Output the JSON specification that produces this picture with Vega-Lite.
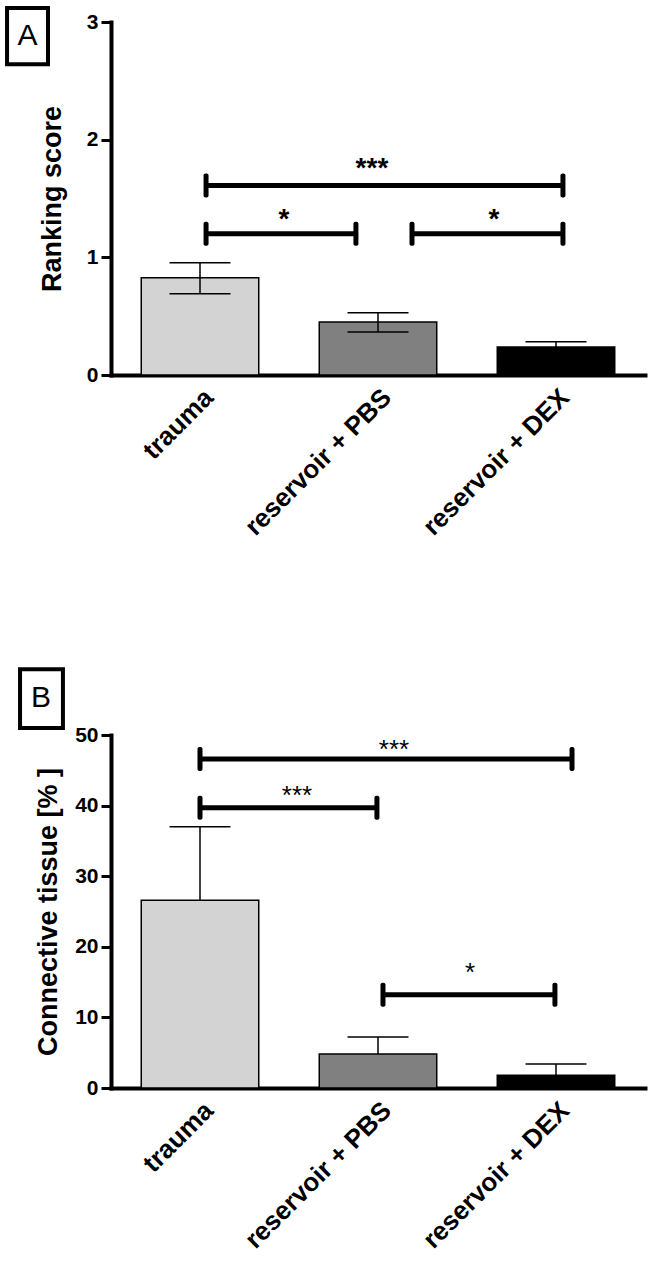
{
  "$schema": "https://vega.github.io/schema/vega-lite/v6.json",
  "background": "white",
  "padding": 5,
  "spacing": 127,
  "config": {
    "font": "Liberation Sans",
    "view": {"stroke": null},
    "tick": {"opacity": 1},
    "axis": {
      "domainColor": "black", "domainWidth": 4, "domainCap": "square",
      "tickColor": "black", "tickWidth": 3, "tickSize": 10,
      "labelColor": "black", "labelFontWeight": "bold", "labelFont": "Liberation Sans", "labelLimit": 0,
      "titleColor": "black", "titleFontWeight": "bold", "titleFont": "Liberation Sans",
      "grid": false
    },
    "axisX": {"ticks": false, "labelAngle": -45, "labelFontSize": 26, "labelPadding": 9, "title": null},
    "axisY": {"labelFontSize": 21, "labelPadding": 3, "titleFontSize": 27, "titlePadding": 20, "format": "d"}
  },
  "datasets": {
    "barsA": [
      {"group": "trauma", "mean": 0.827, "lo": 0.69, "hi": 0.954},
      {"group": "reservoir + PBS", "mean": 0.45, "lo": 0.365, "hi": 0.53},
      {"group": "reservoir + DEX", "mean": 0.238, "lo": 0.19, "hi": 0.283}
    ],
    "sigA": [
      {"x1": 0.534, "x2": 2.539, "y": 1.61, "stars": "***", "sx": 1.466, "sy": 1.75},
      {"x1": 0.534, "x2": 1.376, "y": 1.2, "stars": "*", "sx": 0.972, "sy": 1.32},
      {"x1": 1.691, "x2": 2.539, "y": 1.2, "stars": "*", "sx": 2.152, "sy": 1.32}
    ],
    "barsB": [
      {"group": "trauma", "mean": 26.6, "hi": 37.0},
      {"group": "reservoir + PBS", "mean": 4.82, "hi": 7.23},
      {"group": "reservoir + DEX", "mean": 1.8, "hi": 3.4}
    ],
    "sigB": [
      {"x1": 0.5, "x2": 2.59, "y": 46.6, "stars": "***", "sx": 1.59, "sy": 47.9},
      {"x1": 0.5, "x2": 1.494, "y": 39.7, "stars": "***", "sx": 1.045, "sy": 41.4},
      {"x1": 1.528, "x2": 2.494, "y": 13.2, "stars": "*", "sx": 2.017, "sy": 16.3}
    ]
  },
  "vconcat": [
    {
      "width": 534, "height": 353,
      "resolve": {"scale": {"x": "independent"}},
      "layer": [
        {
          "data": {"name": "barsA"},
          "mark": {"type": "bar", "stroke": "black", "strokeWidth": 1.5, "width": {"band": 0.66}},
          "encoding": {
            "x": {"field": "group", "type": "nominal", "sort": null, "scale": {"paddingInner": 0, "paddingOuter": 0}},
            "y": {"field": "mean", "type": "quantitative", "scale": {"domain": [0, 3], "nice": false}, "axis": {"values": [0, 1, 2, 3], "title": "Ranking score"}},
            "fill": {"field": "group", "type": "nominal", "scale": {"domain": ["trauma", "reservoir + PBS", "reservoir + DEX"], "range": ["#d3d3d3", "#808080", "#000000"]}, "legend": null}
          }
        },
        {
          "data": {"name": "barsA"},
          "mark": {"type": "rule", "color": "black", "strokeWidth": 1.5},
          "encoding": {
            "x": {"field": "group", "type": "nominal", "sort": null, "scale": {"paddingInner": 0, "paddingOuter": 0}, "axis": null},
            "y": {"field": "lo", "type": "quantitative"},
            "y2": {"field": "hi"}
          }
        },
        {
          "data": {"name": "barsA"},
          "mark": {"type": "tick", "color": "black", "opacity": 1, "size": 61, "thickness": 1.5},
          "encoding": {
            "x": {"field": "group", "type": "nominal", "sort": null, "scale": {"paddingInner": 0, "paddingOuter": 0}, "axis": null},
            "y": {"field": "hi", "type": "quantitative"}
          }
        },
        {
          "data": {"name": "barsA"},
          "mark": {"type": "tick", "color": "black", "opacity": 1, "size": 61, "thickness": 1.5},
          "encoding": {
            "x": {"field": "group", "type": "nominal", "sort": null, "scale": {"paddingInner": 0, "paddingOuter": 0}, "axis": null},
            "y": {"field": "lo", "type": "quantitative"}
          }
        },
        {
          "data": {"name": "sigA"},
          "mark": {"type": "rule", "color": "black", "strokeWidth": 5},
          "encoding": {
            "x": {"field": "x1", "type": "quantitative", "scale": {"domain": [0, 3], "nice": false, "zero": false}, "axis": null},
            "x2": {"field": "x2"},
            "y": {"field": "y", "type": "quantitative"}
          }
        },
        {
          "data": {"name": "sigA"},
          "mark": {"type": "tick", "color": "black", "opacity": 1, "orient": "vertical", "size": 24, "thickness": 5, "cornerRadius": 2},
          "encoding": {
            "x": {"field": "x1", "type": "quantitative", "scale": {"domain": [0, 3], "nice": false, "zero": false}, "axis": null},
            "y": {"field": "y", "type": "quantitative"}
          }
        },
        {
          "data": {"name": "sigA"},
          "mark": {"type": "tick", "color": "black", "opacity": 1, "orient": "vertical", "size": 24, "thickness": 5, "cornerRadius": 2},
          "encoding": {
            "x": {"field": "x2", "type": "quantitative", "scale": {"domain": [0, 3], "nice": false, "zero": false}, "axis": null},
            "y": {"field": "y", "type": "quantitative"}
          }
        },
        {
          "data": {"name": "sigA"},
          "mark": {"type": "text", "color": "black", "fontSize": 28, "fontWeight": "bold", "baseline": "middle", "align": "center"},
          "encoding": {
            "x": {"field": "sx", "type": "quantitative", "scale": {"domain": [0, 3], "nice": false, "zero": false}, "axis": null},
            "y": {"field": "sy", "type": "quantitative"},
            "text": {"field": "stars"}
          }
        },
        {
          "data": {"values": [{"panel": "A"}]},
          "mark": {"type": "rect", "fill": "white", "stroke": "black", "strokeWidth": 4, "clip": false},
          "encoding": {
            "x": {"datum": -0.584, "type": "quantitative", "scale": {"domain": [0, 3], "nice": false, "zero": false}, "axis": null},
            "x2": {"datum": -0.354},
            "y": {"datum": 3.12, "type": "quantitative"},
            "y2": {"datum": 2.64}
          }
        },
        {
          "data": {"values": [{"panel": "A"}]},
          "mark": {"type": "text", "color": "black", "fontSize": 30, "baseline": "middle", "align": "center"},
          "encoding": {
            "x": {"datum": -0.469, "type": "quantitative", "scale": {"domain": [0, 3], "nice": false, "zero": false}, "axis": null},
            "y": {"datum": 2.88, "type": "quantitative"},
            "text": {"field": "panel"}
          }
        }
      ]
    },
    {
      "width": 534, "height": 353,
      "resolve": {"scale": {"x": "independent"}},
      "layer": [
        {
          "data": {"name": "barsB"},
          "mark": {"type": "bar", "stroke": "black", "strokeWidth": 1.5, "width": {"band": 0.66}},
          "encoding": {
            "x": {"field": "group", "type": "nominal", "sort": null, "scale": {"paddingInner": 0, "paddingOuter": 0}},
            "y": {"field": "mean", "type": "quantitative", "scale": {"domain": [0, 50], "nice": false}, "axis": {"values": [0, 10, 20, 30, 40, 50], "title": "Connective tissue [% ]", "titlePadding": 12}},
            "fill": {"field": "group", "type": "nominal", "scale": {"domain": ["trauma", "reservoir + PBS", "reservoir + DEX"], "range": ["#d3d3d3", "#808080", "#000000"]}, "legend": null}
          }
        },
        {
          "data": {"name": "barsB"},
          "mark": {"type": "rule", "color": "black", "strokeWidth": 1.5},
          "encoding": {
            "x": {"field": "group", "type": "nominal", "sort": null, "scale": {"paddingInner": 0, "paddingOuter": 0}, "axis": null},
            "y": {"field": "mean", "type": "quantitative"},
            "y2": {"field": "hi"}
          }
        },
        {
          "data": {"name": "barsB"},
          "mark": {"type": "tick", "color": "black", "opacity": 1, "size": 61, "thickness": 1.5},
          "encoding": {
            "x": {"field": "group", "type": "nominal", "sort": null, "scale": {"paddingInner": 0, "paddingOuter": 0}, "axis": null},
            "y": {"field": "hi", "type": "quantitative"}
          }
        },
        {
          "data": {"name": "sigB"},
          "mark": {"type": "rule", "color": "black", "strokeWidth": 5},
          "encoding": {
            "x": {"field": "x1", "type": "quantitative", "scale": {"domain": [0, 3], "nice": false, "zero": false}, "axis": null},
            "x2": {"field": "x2"},
            "y": {"field": "y", "type": "quantitative"}
          }
        },
        {
          "data": {"name": "sigB"},
          "mark": {"type": "tick", "color": "black", "opacity": 1, "orient": "vertical", "size": 24, "thickness": 5, "cornerRadius": 2},
          "encoding": {
            "x": {"field": "x1", "type": "quantitative", "scale": {"domain": [0, 3], "nice": false, "zero": false}, "axis": null},
            "y": {"field": "y", "type": "quantitative"}
          }
        },
        {
          "data": {"name": "sigB"},
          "mark": {"type": "tick", "color": "black", "opacity": 1, "orient": "vertical", "size": 24, "thickness": 5, "cornerRadius": 2},
          "encoding": {
            "x": {"field": "x2", "type": "quantitative", "scale": {"domain": [0, 3], "nice": false, "zero": false}, "axis": null},
            "y": {"field": "y", "type": "quantitative"}
          }
        },
        {
          "data": {"name": "sigB"},
          "mark": {"type": "text", "color": "black", "fontSize": 26, "baseline": "middle", "align": "center"},
          "encoding": {
            "x": {"field": "sx", "type": "quantitative", "scale": {"domain": [0, 3], "nice": false, "zero": false}, "axis": null},
            "y": {"field": "sy", "type": "quantitative"},
            "text": {"field": "stars"}
          }
        },
        {
          "data": {"values": [{"panel": "B"}]},
          "mark": {"type": "rect", "fill": "white", "stroke": "black", "strokeWidth": 4, "clip": false},
          "encoding": {
            "x": {"datum": -0.511, "type": "quantitative", "scale": {"domain": [0, 3], "nice": false, "zero": false}, "axis": null},
            "x2": {"datum": -0.27},
            "y": {"datum": 59.3, "type": "quantitative"},
            "y2": {"datum": 51.0}
          }
        },
        {
          "data": {"values": [{"panel": "B"}]},
          "mark": {"type": "text", "color": "black", "fontSize": 30, "baseline": "middle", "align": "center"},
          "encoding": {
            "x": {"datum": -0.393, "type": "quantitative", "scale": {"domain": [0, 3], "nice": false, "zero": false}, "axis": null},
            "y": {"datum": 55.2, "type": "quantitative"},
            "text": {"field": "panel"}
          }
        }
      ]
    }
  ]
}
